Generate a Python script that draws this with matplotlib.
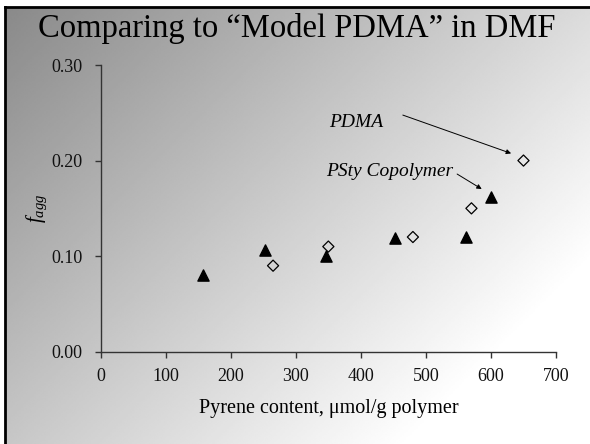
import numpy as np
import matplotlib
matplotlib.use("Agg")
import matplotlib.pyplot as plt
from matplotlib.lines import Line2D

plt.rcParams['font.family'] = ['Liberation Serif', 'DejaVu Serif']
plt.rcParams['mathtext.fontset'] = 'custom'
plt.rcParams['mathtext.rm'] = 'Liberation Serif'
plt.rcParams['mathtext.it'] = 'Liberation Serif:italic'

# Data
psty_x = [157, 253, 347, 452, 561, 600]
psty_y = [0.080, 0.106, 0.100, 0.119, 0.120, 0.162]
pdma_x = [265, 350, 480, 570, 650]
pdma_y = [0.090, 0.110, 0.120, 0.150, 0.200]
xticks = [0, 100, 200, 300, 400, 500, 600, 700]
yticks = [0.00, 0.10, 0.20, 0.30]
ytick_labels = ["0.00", "0.10", "0.20", "0.30"]

W, H = 590, 444
fig = plt.figure(figsize=(W / 100, H / 100), dpi=100)
fig.patch.set_facecolor('white')

# Gradient background
bg = fig.add_axes([6 / W, 0, 1 - 6 / W, 1 - 8 / H])
bg.set_axis_off()
gx = np.linspace(0, 1, 300)
gy = np.linspace(0, 1, 300)
GX, GY = np.meshgrid(gx, gy)
val = np.clip(0.54 + 0.32 * GX + 0.24 * GY, 0, 1)
bg.imshow(val, cmap='gray', vmin=0, vmax=1, aspect='auto', extent=[0, 1, 1, 0], interpolation='bilinear')
bg.set_xlim(0, 1)
bg.set_ylim(1, 0)

# Border lines
fig.add_artist(Line2D([5 / W, 1], [1 - 7 / H, 1 - 7 / H], color='black', lw=2.0, transform=fig.transFigure))
fig.add_artist(Line2D([5 / W, 5 / W], [0, 1 - 7 / H], color='black', lw=2.0, transform=fig.transFigure))

fig.text(0.503, 1 - 29 / H, "Comparing to \u201cModel PDMA\u201d in DMF", ha='center', va='center',
         fontsize=23.5, color='black')

ax = fig.add_axes([100.7 / W, (H - 351.7) / H, (556 - 100.7) / W, (351.7 - 65) / H])
ax.patch.set_alpha(0)
ax.set_xlim(0, 700)
ax.set_ylim(0, 0.30)
for s in ['top', 'right']:
    ax.spines[s].set_visible(False)
for s in ['left', 'bottom']:
    ax.spines[s].set_color('#333333')
    ax.spines[s].set_linewidth(1.0)
ax.set_xticks(xticks)
ax.set_yticks(yticks)
ax.set_yticklabels(ytick_labels)
ax.tick_params(axis='both', labelsize=13, colors='#333333', labelcolor='#111111', length=4, width=1.0, direction='out')
ax.tick_params(axis='x', pad=8)
ax.tick_params(axis='y', pad=9)

ax.scatter(psty_x, psty_y, marker='^', s=65, color='black', zorder=3)
ax.scatter(pdma_x, pdma_y, marker='D', s=32, facecolor='none', edgecolor='black', linewidth=0.9, zorder=3)

ax.set_xlabel("Pyrene content, \u03bcmol/g polymer", fontsize=14.5, labelpad=10)
ax.set_ylabel(r"$f_{agg}$", fontsize=15, labelpad=2)

ax.text(393.5, 0.2354, "PDMA", style='italic', fontsize=14, ha='center', va='baseline')
ax.text(444, 0.1838, "PSty Copolymer", style='italic', fontsize=14, ha='center', va='baseline')
ax.annotate("", xy=(631, 0.2075), xytext=(464.5, 0.2476),
            arrowprops=dict(arrowstyle='-|>', lw=0.7, color='black', mutation_scale=7, shrinkA=0, shrinkB=0))
ax.annotate("", xy=(585.8, 0.1702), xytext=(548, 0.1859),
            arrowprops=dict(arrowstyle='-|>', lw=0.7, color='black', mutation_scale=7, shrinkA=0, shrinkB=0))

fig.savefig("out.png", dpi=100)
